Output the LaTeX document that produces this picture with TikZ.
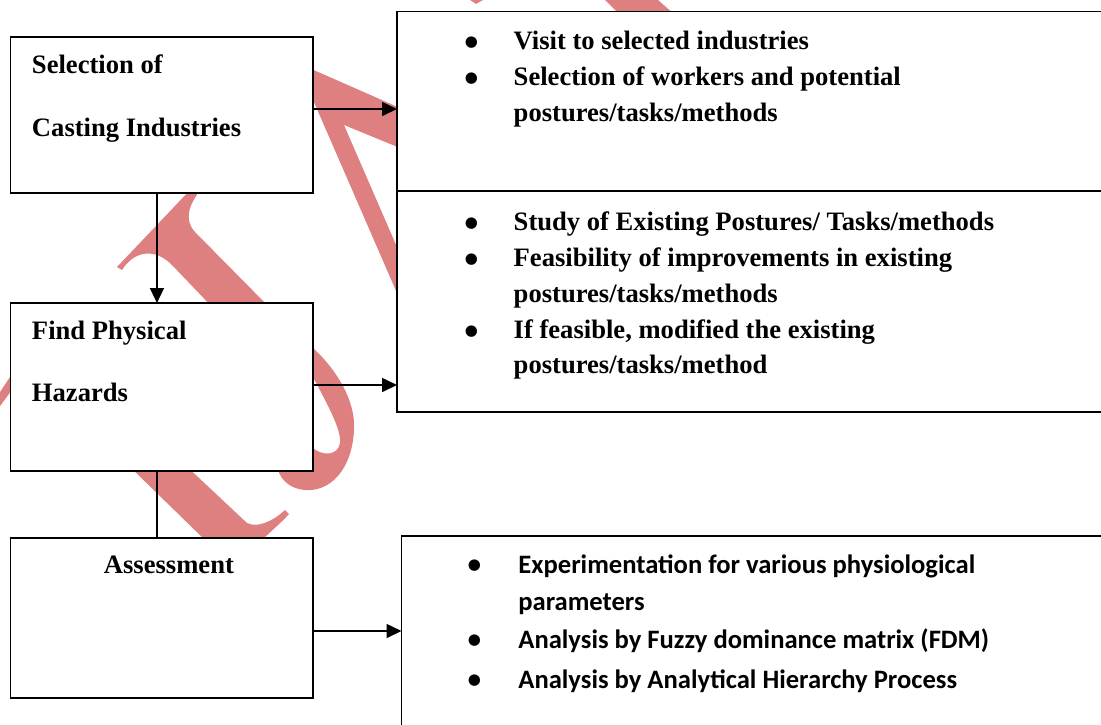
\documentclass[tikz,border=0pt]{standalone}
\usepackage{fontspec}
\setmainfont{Liberation Serif}
\newfontfamily\calibrifont{Carlito}
\newfontfamily\dotfont{DejaVu Sans}
\usetikzlibrary{arrows.meta}
\definecolor{wmark}{RGB}{222,128,128}
\tikzstyle{stepbox}=[rectangle,draw,fill=white,line width=0.8pt,inner sep=0pt,outer sep=0pt,anchor=north west]
\tikzstyle{flow} = [draw,line width=0.8pt,-{Triangle[length=7.5pt,width=7pt]}]
\tikzstyle{plainline} = [draw,line width=0.8pt]
\tikzstyle{serifbold} = [font=\fontsize{13.3pt}{16pt}\selectfont\bfseries,anchor=base west,inner sep=0pt]
\tikzstyle{sansbold} = [font=\fontsize{13.3pt}{16pt}\selectfont\calibrifont\bfseries,anchor=base west,inner sep=0pt]
\tikzstyle{bulletmark} = [font=\fontsize{7.5pt}{9pt}\selectfont\dotfont,anchor=base,inner sep=0pt]

\begin{document}
\begin{tikzpicture}[x=0.5pt,y=-0.5pt]
    \useasboundingbox (0,0) rectangle (1101,724);
    \clip (0,0) rectangle (1101,724);

    % Watermark pieces, the boxes hide the rest
    \fill[wmark] (300,64) -- (400,108) -- (400,148) -- (344,125) -- (400,254) -- (400,300) -- (300,70) -- cycle;
    \fill[wmark] (470,0) -- (483,0) -- (476,4) -- cycle;
    \fill[wmark] (605,0) -- (658,0) -- (674,14) -- (619,14) -- cycle;
    \fill[wmark] (0,392) -- (12,374) -- (12,390) -- (0,406) -- cycle;
    \fill[wmark] (117,267) -- (192,188) -- (202,188) .. controls (188,205) and (184,220) .. (195,232)
        -- (272,310) -- (215,310) -- (172,265) .. controls (155,248) and (135,250) .. (122,270) -- cycle;
    \fill[wmark] (125,462) -- (182,462) -- (247,523) .. controls (257,528) and (272,522) .. (285,510)
        -- (289,514) .. controls (280,524) and (270,532) .. (262,540) -- (205,540) -- cycle;
    \fill[wmark,even odd rule] (290,335) -- (313,348) .. controls (335,368) and (356,400) .. (354,430)
        .. controls (352,470) and (330,492) .. (305,490) .. controls (292,489) and (282,482) .. (278,470)
        -- (290,460) -- cycle
        (305,370) -- (313,377) .. controls (325,400) and (342,430) .. (340,443)
        .. controls (338,456) and (322,456) .. (313,448) -- (300,440) -- cycle;

    % First we draw the boxes
    \node[stepbox,minimum width=151.25pt,minimum height=78pt] (select) at (10.5,37) {};
    \node[stepbox,minimum width=151.25pt,minimum height=84pt] (hazard) at (10.5,303) {};
    \node[stepbox,minimum width=151.25pt,minimum height=80pt] (assess) at (10.5,538) {};
    \node[stepbox,minimum width=356.5pt,minimum height=89.75pt] (visit) at (397,11.5) {};
    \node[stepbox,minimum width=356.5pt,minimum height=110.5pt] (study) at (397,191) {};
    \node[stepbox,minimum width=360pt,minimum height=100pt] (expt) at (401.5,536) {};

    % Connect boxes with arrows
    \draw[flow] ([yshift=3pt]select.east) -- ([yshift=3pt]select.east -| visit.west);
    \draw[flow] ([yshift=1pt]hazard.east) -- ([yshift=1pt]hazard.east -| study.west);
    \draw[flow] ([yshift=-6.5pt]assess.east) -- ([yshift=-6.5pt]assess.east -| expt.west);
    \draw[flow] ([xshift=-2.4pt]select.south) -- ([xshift=-2.4pt]select.south |- hazard.north);
    \path[plainline] ([xshift=-2.4pt]hazard.south) -- ([xshift=-2.4pt]hazard.south |- assess.north);

    % Texts of the left boxes
    \node[serifbold] (selA) at (31.6,73.5) {Selection of};
    \node[serifbold] (selB) at (31.6,136) {Casting Industries};
    \node[serifbold] (hazA) at (31.6,339.5) {Find Physical};
    \node[serifbold] (hazB) at (31.6,401) {Hazards};
    \node[serifbold] (assT) at (103.5,573.3) {Assessment};

    % Then the bullet lists
    \foreach \y/\name in {49.5/vb1, 85.5/vb2, 230/sb1, 266.5/sb2, 338/sb3}
        \node[bulletmark] (\name) at (471.5,\y-3) {●};
    \foreach \y/\name/\txt in {49.5/vt1/{Visit to selected industries},
                               85.5/vt2/{Selection of workers and potential},
                               121.5/vt3/{postures/tasks/methods},
                               230/st1/{Study of Existing Postures/ Tasks/methods},
                               266.5/st2/{Feasibility of improvements in existing},
                               302/st3/{postures/tasks/methods},
                               338/st4/{If feasible, modified the existing},
                               373.5/st5/{postures/tasks/method}}
        \node[serifbold] (\name) at (513.3,\y) {\txt};

    \foreach \y/\name in {573.3/eb1, 648.3/eb2, 688.3/eb3}
        \node[bulletmark] (\name) at (474.5,\y-4) {●};
    \foreach \y/\name/\txt in {573.3/et1/{Experimentation for various physiological},
                               610.5/et2/{parameters},
                               648.3/et3/{Analysis by Fuzzy dominance matrix (FDM)},
                               688.3/et4/{Analysis by Analytical Hierarchy Process}}
        \node[sansbold] (\name) at (518,\y) {\txt};
\end{tikzpicture}
\end{document}
